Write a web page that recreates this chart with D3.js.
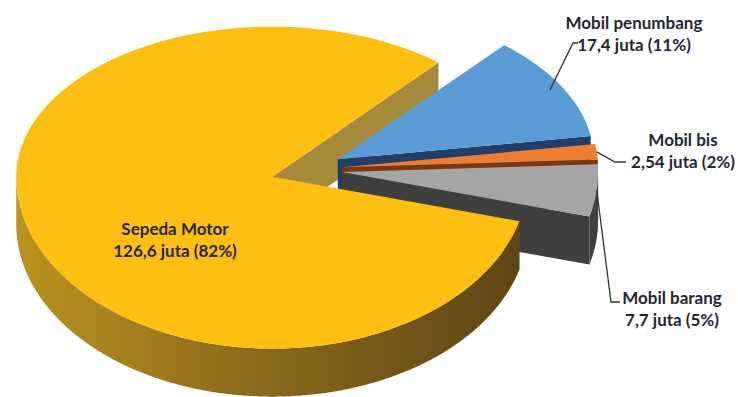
<!DOCTYPE html>
<html><head><meta charset="utf-8">
<script src="https://cdn.jsdelivr.net/npm/d3@7"></script>
<style>body{margin:0;background:#fff}svg{display:block}</style>
</head><body><svg id="c" width="738" height="397"></svg>
<script>
const categories = ["Sepeda Motor","Mobil penumbang","Mobil bis","Mobil barang"];
const values = [126.6, 17.4, 2.54, 7.7];
const valueLabels = ["126,6 juta (82%)","17,4 juta (11%)","2,54 juta (2%)","7,7 juta (5%)"];
const topColors = ["#FDBF12","#5B9BD5","#ED7D31","#A5A5A5"];
const wallColors = ["#A68A3C","#1F3E68","#7A3812","#3F3F3F"];

const cx=306.5, cy=169.5, RX=256, RYT=150, RYB=172, DEPTH=48, EXPLODE=0.14;
const deg=Math.PI/180;
const svg=d3.select("#c");
const defs=svg.append("defs");
const g1=defs.append("linearGradient").attr("id","ySide").attr("gradientUnits","userSpaceOnUse")
  .attr("x1",14).attr("y1",0).attr("x2",530).attr("y2",0);
g1.append("stop").attr("offset",0).attr("stop-color","#BC931F");
g1.append("stop").attr("offset",0.45).attr("stop-color","#8C6B1B");
g1.append("stop").attr("offset",1).attr("stop-color","#5C4414");

const pie=d3.pie().sort(null).value(d=>d).startAngle(105*deg).endAngle(465*deg);
const arcs=pie(values);

function proj(ox,oy,t,r){
  const s=Math.sin(t), c=Math.cos(t);
  return [ox + r*RX*s, oy - r*(c>=0?RYT:RYB)*c];
}
const line=d3.line();
function samples(a,b){
  const n=Math.max(2,Math.ceil((b-a)/(0.5*deg)));
  return d3.range(n+1).map(i=>a+(b-a)*i/n);
}
arcs.forEach(d=>{
  d.mid=(d.startAngle+d.endAngle)/2;
  d.apex=proj(cx,cy,d.mid,EXPLODE);
});
function topPath(d){
  const pts=[d.apex].concat(samples(d.startAngle,d.endAngle).map(t=>proj(d.apex[0],d.apex[1],t,1)));
  return line(pts)+"Z";
}
function radialWall(d,t){
  const r=proj(d.apex[0],d.apex[1],t,1);
  return line([d.apex,r,[r[0],r[1]+DEPTH],[d.apex[0],d.apex[1]+DEPTH]])+"Z";
}
function outerWalls(d){
  const out=[];
  for(let n=0;n<2;n++){
    const a=Math.max(d.startAngle,Math.PI/2+2*Math.PI*n), b=Math.min(d.endAngle,1.5*Math.PI+2*Math.PI*n);
    if(b>a){
      const top=samples(a,b).map(t=>proj(d.apex[0],d.apex[1],t,1));
      const bot=top.map(p=>[p[0],p[1]+DEPTH]).reverse();
      out.push(line(top.concat(bot))+"Z");
    }
  }
  return out;
}
function drawWalls(d,i){
  if(Math.sin(d.endAngle)>0) svg.append("path").attr("d",radialWall(d,d.endAngle)).attr("fill",wallColors[i]);
  if(Math.sin(d.startAngle)<0) svg.append("path").attr("d",radialWall(d,d.startAngle)).attr("fill",wallColors[i]);
}
function drawBody(d,i){
  outerWalls(d).forEach(p=>svg.append("path").attr("d",p).attr("fill",i===0?"url(#ySide)":wallColors[i]));
  svg.append("path").attr("d",topPath(d)).attr("fill",topColors[i]);
}
// back-to-front
drawWalls(arcs[0],0);
[1,2,3].forEach(i=>{drawWalls(arcs[i],i);drawBody(arcs[i],i);});
drawBody(arcs[0],0);

// labels
const labelPos=[[175,229],[634,23],[683,140],[672,298]];
const lineGap=22;
const leaderBends=[null,[[573,43],[578,43]],[[615,162],[626,162]],[[611,302],[620,302]]];
const leaderR=[0,0.95,1.0,1.0];
arcs.forEach((d,i)=>{
  if(leaderBends[i]){
    const s=proj(d.apex[0],d.apex[1],d.mid,leaderR[i]);
    svg.append("path").attr("d",line([s].concat(leaderBends[i])))
      .attr("fill","none").attr("stroke","#333").attr("stroke-width",1.3);
  }
  const t=svg.append("text").attr("text-anchor","middle")
    .attr("font-family","Lato, 'Open Sans', sans-serif").attr("font-weight",700)
    .attr("font-size",17).attr("fill","#262633");
  t.append("tspan").attr("x",labelPos[i][0]).attr("y",labelPos[i][1]).attr("dy","0.35em").text(categories[i]);
  t.append("tspan").attr("x",labelPos[i][0]).attr("y",labelPos[i][1]+lineGap).attr("dy","0.35em").text(valueLabels[i]);
});
</script></body></html>
